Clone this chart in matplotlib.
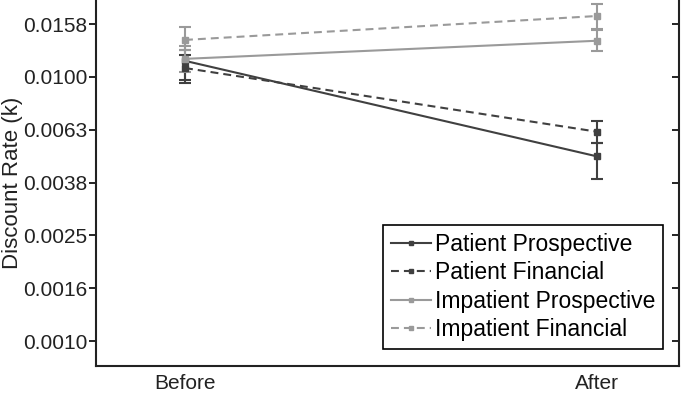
import matplotlib
matplotlib.use("Agg")
import matplotlib.pyplot as plt
from matplotlib.lines import Line2D
import numpy as np

plt.rcParams['font.family'] = ['Liberation Sans', 'DejaVu Sans']

conditions = ["Before", "After"]
series_names = ["Patient Prospective", "Patient Financial",
                "Impatient Prospective", "Impatient Financial"]
# discount rate k (mean), and lower/upper bounds of error bars
k_patient_prospective = [0.0115, 0.0050]
lo_patient_prospective = [0.00948, 0.00411]
hi_patient_prospective = [0.01264, 0.00562]

k_patient_financial = [0.0108, 0.0062]
lo_patient_financial = [0.00973, 0.00562]
hi_patient_financial = [0.0121, 0.00681]

k_impatient_prospective = [0.0117, 0.0137]
lo_impatient_prospective = [0.01043, 0.01253]
hi_impatient_prospective = [0.0131, 0.01517]

k_impatient_financial = [0.0138, 0.0170]
lo_impatient_financial = [0.01264, 0.01504]
hi_impatient_financial = [0.01545, 0.01888]

ytick_labels = ["0.0010", "0.0016", "0.0025", "0.0038", "0.0063", "0.0100", "0.0158"]

dark = "#404040"
light = "#9a9a9a"
dash = (0, (3.8, 2.4))

fig = plt.figure(figsize=(6.84, 3.95), dpi=100)
ax = fig.add_axes([96/684, 29/395, (679-96)/684, (395-29)/395])

x = np.arange(1, len(conditions) + 1)
series = [
    (k_patient_prospective, lo_patient_prospective, hi_patient_prospective, dark, '-'),
    (k_patient_financial, lo_patient_financial, hi_patient_financial, dark, dash),
    (k_impatient_prospective, lo_impatient_prospective, hi_impatient_prospective, light, '-'),
    (k_impatient_financial, lo_impatient_financial, hi_impatient_financial, light, dash),
]
handles = []
for name, (k, lo, hi, c, ls) in zip(series_names, series):
    k = np.array(k); lo = np.array(lo); hi = np.array(hi)
    yerr = np.vstack([k - lo, hi - k])
    ax.errorbar(x, k, yerr=yerr, color=c, linestyle=ls, linewidth=1.5,
                marker='s', markersize=4, capsize=4, elinewidth=1.5,
                capthick=1.5)
    handles.append(Line2D([], [], color=c, linestyle=ls, linewidth=1.5,
                          marker='s', markersize=3, label=name))

ax.set_yscale('log')
ax.set_ylim(10**-3.0946, 10**-1.709)
ax.set_xlim(0.784, 2.199)
ticks = [10**(-3 + 0.2*i) for i in range(len(ytick_labels))]
ax.yaxis.set_major_locator(matplotlib.ticker.FixedLocator(ticks))
ax.yaxis.set_minor_locator(matplotlib.ticker.NullLocator())
ax.set_yticklabels(ytick_labels)
ax.set_xticks(x)
ax.set_xticklabels(conditions)

ax.tick_params(axis='y', which='major', direction='out', length=5, width=1.2,
               labelsize=15, colors='black', labelcolor='#222222', right=True,
               pad=1)
ax.tick_params(axis='x', length=0, labelsize=15, labelcolor='#222222', pad=6)
for t in ax.yaxis.get_major_ticks():
    t.tick2line.set_marker(matplotlib.lines.TICKLEFT)
    t.tick2line.set_markersize(5)

ax.spines['top'].set_visible(False)
for s in ['left', 'bottom', 'right']:
    ax.spines[s].set_linewidth(1.5)
    ax.spines[s].set_color('#222222')

ax.set_ylabel("Discount Rate (k)", fontsize=16, color='#222222')
ax.yaxis.set_label_coords(13/684, 1 - 183/395, transform=fig.transFigure)
ax.yaxis.label.set_verticalalignment('center')

leg = ax.legend(handles=handles, loc='lower right', bbox_to_anchor=(663/684, 46/395),
                bbox_transform=fig.transFigure, fontsize=16.5, frameon=True,
                fancybox=False, edgecolor='black', framealpha=1,
                handlelength=1.75, handletextpad=0.15, borderpad=0.35,
                labelspacing=0.23, borderaxespad=0)
leg.get_frame().set_linewidth(1.2)

fig.savefig("out.png", dpi=100)
